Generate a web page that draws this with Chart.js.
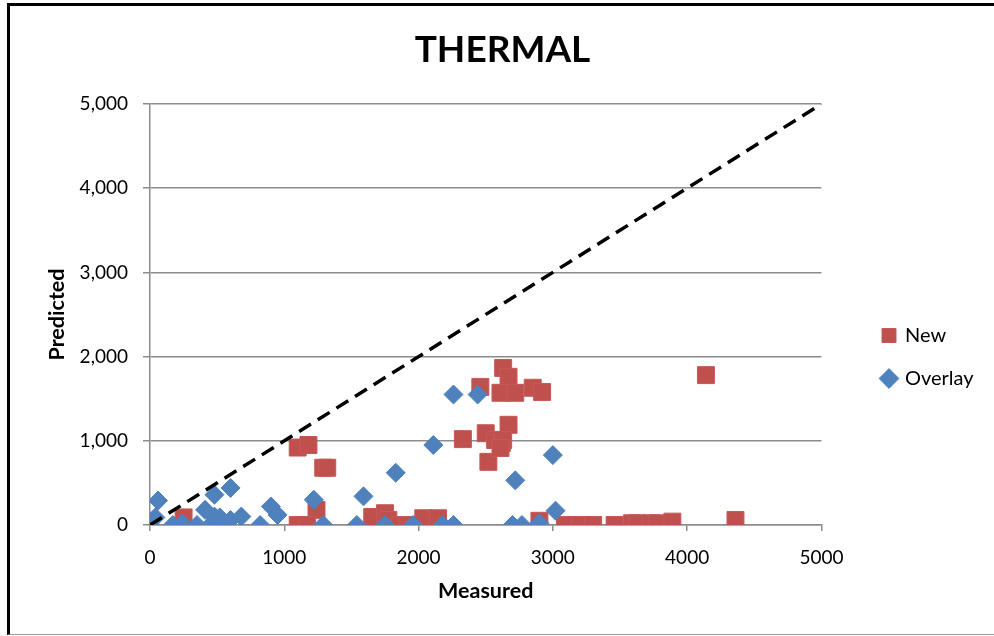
<!DOCTYPE html>
<html lang="en">
  <head>
    <meta charset="UTF-8" />
    <title>THERMAL</title>
    <style>
      * {
        margin: 0;
        padding: 0;
        box-sizing: border-box;
      }

      body {
        width: 994px;
        height: 636px;
        background: #fff;
        overflow: hidden;
        position: relative;
      }

      .frame {
        position: absolute;
        left: 7px;
        top: 3px;
        width: 990px;
        height: 632px;
        border-left: 3px solid #000;
        border-top: 3px solid #000;
        border-bottom: 1px solid #9a9a9a;
      }

      .chartBox {
        position: absolute;
        left: 0;
        top: 0;
        width: 994px;
        height: 636px;
      }
    </style>
  </head>
  <body>
    <div class="frame"></div>
    <div class="chartBox">
      <canvas id="myChart" width="994" height="636"></canvas>
    </div>

    <script src="https://cdn.jsdelivr.net/npm/chart.js"></script>

    <script>
      // series "New" (red squares)
      const newMeasured = [
        250, 1100, 1180, 1290, 1320, 1240, 1100, 1170, 1655, 1750, 1775, 1860,
        1920, 2035, 2145, 2460, 2630, 2670, 2610, 2720, 2850, 2920, 2330, 2500,
        2570, 2520, 2670, 2620, 2630, 2610, 4140, 2900, 3090, 3200, 3300, 3460,
        3590, 3630, 3730, 3780, 3890, 4360,
      ];
      const newPredicted = [
        90, 920, 950, 680, 680, 180, 0, 0, 95, 140, 60, 0, 0, 80, 80, 1640, 1865,
        1760, 1570, 1570, 1630, 1580, 1020, 1090, 1010, 750, 1190, 975, 1010, 915,
        1780, 50, 0, 0, 0, 0, 20, 20, 20, 20, 40, 60,
      ];

      // series "Overlay" (blue diamonds)
      const overlayMeasured = [
        0, 40, 60, 170, 240, 350, 410, 450, 480, 480, 520, 540, 600, 600, 680,
        820, 900, 950, 1220, 1290, 1540, 1590, 1750, 1830, 1960, 2110, 2180,
        2260, 2260, 2440, 2720, 2700, 2770, 2900, 3000, 3020,
      ];
      const overlayPredicted = [
        0, 90, 290, 0, 20, 0, 180, 0, 360, 100, 90, 0, 440, 60, 100, 0, 220, 120,
        300, 0, 0, 340, 0, 620, 0, 950, 0, 0, 1550, 1550, 530, 0, 0, 20, 830, 170,
      ];

      // 1:1 reference line
      const lineMeasured = [0, 5000];
      const linePredicted = [0, 5000];

      const xTicks = [0, 1000, 2000, 3000, 4000, 5000];
      const yTicks = [0, 1000, 2000, 3000, 4000, 5000];

      const toPoints = (xs, ys) => xs.map((x, i) => ({ x: x, y: ys[i] }));

      const fontFamily = "Lato, 'Liberation Sans', sans-serif";
      const gridGray = "#8c8c8c";

      // move legend and title a bit to the right, like the original
      const blockNudge = {
        id: "blockNudge",
        afterLayout(chart) {
          const lg = chart.legend;
          const lgShift = 883 - (lg.left + 23);
          lg.left += lgShift;
          lg.right += lgShift;
          lg.top += 39;
          lg.bottom += 39;
          const tb = chart.titleBlock;
          tb.left += 30;
          tb.right += 30;
        },
      };

      const data = {
        datasets: [
          {
            label: "New",
            data: toPoints(newMeasured, newPredicted),
            pointStyle: "rect",
            pointRadius: 12,
            pointHoverRadius: 12,
            backgroundColor: "#C0504D",
            borderColor: "#C55A57",
            borderWidth: 1,
            order: 2,
          },
          {
            label: "Overlay",
            data: toPoints(overlayMeasured, overlayPredicted),
            pointStyle: "rectRot",
            pointRadius: 9.5,
            pointHoverRadius: 9.5,
            backgroundColor: "#4F81BD",
            borderColor: "#4F81BD",
            borderWidth: 1,
            order: 1,
          },
          {
            label: "1:1",
            data: toPoints(lineMeasured, linePredicted),
            showLine: true,
            borderColor: "#000",
            borderWidth: 3.5,
            borderDash: [14, 8],
            pointRadius: 0,
            fill: false,
            order: 0,
          },
        ],
      };

      const config = {
        type: "scatter",
        data: data,
        options: {
          responsive: false,
          animation: false,
          layout: {
            padding: { left: 0, right: 49, top: 0, bottom: 0 },
          },
          plugins: {
            title: {
              display: true,
              text: "THERMAL",
              color: "#000",
              font: { family: fontFamily, size: 37, weight: "bold" },
              padding: { top: 28, bottom: 31.6 },
            },
            legend: {
              position: "right",
              labels: {
                usePointStyle: true,
                boxWidth: 12,
                boxHeight: 14,
                padding: 23,
                color: "#000",
                font: { family: fontFamily, size: 20 },
                filter: (item) => item.datasetIndex !== 2,
                sort: (a, b) => a.datasetIndex - b.datasetIndex,
              },
            },
            tooltip: { enabled: false },
          },
          scales: {
            x: {
              type: "linear",
              min: 0,
              max: 5000,
              afterBuildTicks: (scale) => {
                scale.ticks = xTicks.map((v) => ({ value: v }));
              },
              afterFit: (scale) => {
                scale.height = 111;
              },
              ticks: {
                color: "#000",
                padding: 15,
                maxRotation: 0,
                font: { family: fontFamily, size: 19 },
                callback: (v) => String(v),
              },
              grid: {
                drawOnChartArea: false,
                drawTicks: true,
                tickLength: 6,
                color: gridGray,
                lineWidth: 1.5,
              },
              border: { display: true, color: gridGray, width: 1.5 },
              title: {
                display: true,
                text: "Measured",
                color: "#000",
                font: { family: fontFamily, size: 21.5, weight: "bold" },
                padding: { top: 0, bottom: 32 },
              },
            },
            y: {
              type: "linear",
              min: 0,
              max: 5000,
              afterBuildTicks: (scale) => {
                scale.ticks = yTicks.map((v) => ({ value: v }));
              },
              afterFit: (scale) => {
                scale.width = 150;
              },
              ticks: {
                color: "#000",
                padding: 15,
                font: { family: fontFamily, size: 19 },
                callback: (v) => v.toLocaleString("en-US"),
              },
              grid: {
                drawOnChartArea: true,
                drawTicks: true,
                tickLength: 7,
                color: gridGray,
                lineWidth: 1.5,
              },
              border: { display: true, color: gridGray, width: 1.5 },
              title: {
                display: true,
                text: "Predicted",
                color: "#000",
                font: { family: fontFamily, size: 21.5, weight: "bold" },
                padding: { top: 44, bottom: 0 },
              },
            },
          },
        },
        plugins: [blockNudge],
      };

      const myChart = new Chart(document.getElementById("myChart"), config);
    </script>
  </body>
</html>
